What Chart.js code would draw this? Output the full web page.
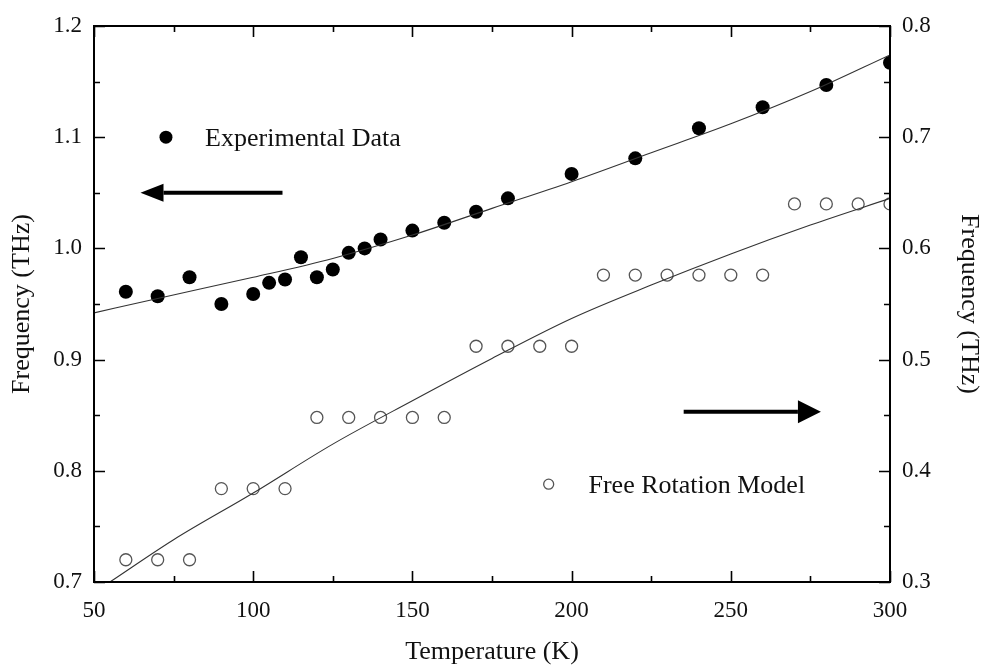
<!doctype html>
<html>
<head>
<meta charset="utf-8" />
<title>Frequency vs Temperature</title>
<script src="https://cdn.jsdelivr.net/npm/chart.js@4"></script>
<style>
  html, body { margin: 0; padding: 0; background: #fff; }
  #wrap { width: 985px; height: 668px; }
</style>
</head>
<body>
<div id="wrap"><canvas id="chart" width="985" height="668"></canvas></div>
<script>
// experimental points (left axis, THz)
const expT = [60, 70, 80, 90, 100, 105, 110, 115, 120, 125, 130, 135, 140, 150, 160, 170, 180, 200, 220, 240, 260, 280, 300];
const expFreq = [0.961, 0.957, 0.974, 0.950, 0.959, 0.969, 0.972, 0.992, 0.974, 0.981, 0.996, 1.000, 1.008, 1.016, 1.023, 1.033, 1.045, 1.067, 1.081, 1.108, 1.127, 1.147, 1.167];

// free rotation model points (right axis, THz)
const modelT = [60, 70, 80, 90, 100, 110, 120, 130, 140, 150, 160, 170, 180, 190, 200, 210, 220, 230, 240, 250, 260, 270, 280, 290, 300];
const modelFreq = [0.320, 0.320, 0.320, 0.384, 0.384, 0.384, 0.448, 0.448, 0.448, 0.448, 0.448, 0.512, 0.512, 0.512, 0.512, 0.576, 0.576, 0.576, 0.576, 0.576, 0.576, 0.640, 0.640, 0.640, 0.640];

// fitted curves
const expFitT = [50, 70, 100, 125, 150, 175, 200, 225, 250, 275, 300];
const expFitFreq = [0.942, 0.955, 0.974, 0.991, 1.012, 1.036, 1.060, 1.086, 1.112, 1.141, 1.174];
const modelFitT = [55, 75, 100, 125, 150, 175, 200, 225, 250, 275, 300];
const modelFitFreq = [0.300, 0.338, 0.380, 0.424, 0.463, 0.501, 0.537, 0.567, 0.595, 0.621, 0.645];

// axis ranges / ticks
const xRange = [50, 300];
const leftRange = [0.7, 1.2];
const rightRange = [0.3, 0.8];

// annotation anchors, in data units (x: K, y: left axis THz)
const expLabel = { marker: [72.6, 1.100], text: [84.9, 1.100], label: 'Experimental Data' };
const modelLabel = { marker: [192.8, 0.788], text: [205.3, 0.788], label: 'Free Rotation Model' };
const leftArrow = { from: [109.2, 1.050], to: [64.6, 1.050] };
const rightArrow = { from: [235.2, 0.853], to: [278.3, 0.853] };

const SERIF = "'Liberation Serif', 'Times New Roman', serif";

const pairs = (xs, ys) => xs.map((v, i) => ({ x: v, y: ys[i] }));

function drawArrow(ctx, x0, y0, x1, y1, headLen, headHalf) {
  const dir = Math.sign(x1 - x0);
  ctx.beginPath();
  ctx.moveTo(x0, y0);
  ctx.lineTo(x1 - dir * headLen, y1);
  ctx.stroke();
  ctx.beginPath();
  ctx.moveTo(x1, y1);
  ctx.lineTo(x1 - dir * headLen, y1 - headHalf);
  ctx.lineTo(x1 - dir * headLen, y1 + headHalf);
  ctx.closePath();
  ctx.fill();
}

const frameAndNotes = {
  id: 'frameAndNotes',
  afterDatasetsDraw(chart) {
    const { ctx, chartArea: a, scales } = chart;
    const x = scales.x, y = scales.y, y2 = scales.y2;
    ctx.save();
    ctx.strokeStyle = '#000';
    ctx.fillStyle = '#000';

    // frame
    ctx.lineWidth = 2;
    ctx.strokeRect(a.left, a.top, a.right - a.left, a.bottom - a.top);

    // inward ticks
    ctx.lineWidth = 1.6;
    ctx.beginPath();
    for (let i = 0; i <= 10; i++) {
      const px = Math.round(x.getPixelForValue(xRange[0] + i * 25)) + 0.5;
      const len = i % 2 === 0 ? 11 : 6;
      ctx.moveTo(px, a.bottom); ctx.lineTo(px, a.bottom - len);
      ctx.moveTo(px, a.top); ctx.lineTo(px, a.top + len);
      const pyL = Math.round(y.getPixelForValue(leftRange[0] + i * 0.05)) + 0.5;
      ctx.moveTo(a.left, pyL); ctx.lineTo(a.left + len, pyL);
      const pyR = Math.round(y2.getPixelForValue(rightRange[0] + i * 0.05)) + 0.5;
      ctx.moveTo(a.right, pyR); ctx.lineTo(a.right - len, pyR);
    }
    ctx.stroke();

    // legend-like labels
    ctx.font = '26px ' + SERIF;
    ctx.textBaseline = 'alphabetic';
    ctx.textAlign = 'left';

    let mx = x.getPixelForValue(expLabel.marker[0]);
    let my = y.getPixelForValue(expLabel.marker[1]);
    ctx.beginPath();
    ctx.arc(mx, my, 6.5, 0, Math.PI * 2);
    ctx.fill();
    ctx.fillStyle = '#111';
    ctx.fillText(expLabel.label, x.getPixelForValue(expLabel.text[0]), y.getPixelForValue(expLabel.text[1]) + 9);

    mx = x.getPixelForValue(modelLabel.marker[0]);
    my = y.getPixelForValue(modelLabel.marker[1]);
    ctx.strokeStyle = '#555';
    ctx.lineWidth = 1.3;
    ctx.beginPath();
    ctx.arc(mx, my, 5, 0, Math.PI * 2);
    ctx.stroke();
    ctx.fillText(modelLabel.label, x.getPixelForValue(modelLabel.text[0]), y.getPixelForValue(modelLabel.text[1]) + 9);

    // arrows
    ctx.strokeStyle = '#000';
    ctx.fillStyle = '#000';
    ctx.lineWidth = 4;
    drawArrow(ctx,
      x.getPixelForValue(leftArrow.from[0]), y.getPixelForValue(leftArrow.from[1]),
      x.getPixelForValue(leftArrow.to[0]), y.getPixelForValue(leftArrow.to[1]), 23, 9);
    drawArrow(ctx,
      x.getPixelForValue(rightArrow.from[0]), y.getPixelForValue(rightArrow.from[1]),
      x.getPixelForValue(rightArrow.to[0]), y.getPixelForValue(rightArrow.to[1]), 23, 11.5);
    ctx.restore();
  }
};

const tickFont = { family: SERIF, size: 23 };
const titleFont = { family: SERIF, size: 26 };

new Chart(document.getElementById('chart'), {
  type: 'scatter',
  data: {
    datasets: [
      {
        label: 'Experimental fit',
        data: pairs(expFitT, expFitFreq),
        yAxisID: 'y',
        showLine: true,
        pointRadius: 0,
        borderColor: '#333',
        borderWidth: 1.1,
        cubicInterpolationMode: 'monotone',
        clip: 0
      },
      {
        label: 'Model fit',
        data: pairs(modelFitT, modelFitFreq),
        yAxisID: 'y2',
        showLine: true,
        pointRadius: 0,
        borderColor: '#333',
        borderWidth: 1.1,
        cubicInterpolationMode: 'monotone',
        clip: 0
      },
      {
        label: 'Experimental Data',
        data: pairs(expT, expFreq),
        yAxisID: 'y',
        pointRadius: 7,
        pointBackgroundColor: '#000',
        pointBorderColor: '#000',
        pointBorderWidth: 0,
        clip: 0
      },
      {
        label: 'Free Rotation Model',
        data: pairs(modelT, modelFreq),
        yAxisID: 'y2',
        pointRadius: 6,
        pointBackgroundColor: 'rgba(255,255,255,0)',
        pointBorderColor: '#555',
        pointBorderWidth: 1.3,
        clip: 0
      }
    ]
  },
  options: {
    responsive: false,
    animation: false,
    devicePixelRatio: 1,
    layout: { padding: { top: 26, right: 0, left: 0, bottom: 0 } },
    plugins: { legend: { display: false }, tooltip: { enabled: false } },
    scales: {
      x: {
        type: 'linear',
        position: 'bottom',
        min: xRange[0], max: xRange[1],
        afterFit: (s) => { s.height = 86; },
        grid: { display: false, drawTicks: false },
        border: { display: false },
        ticks: { stepSize: 50, font: tickFont, color: '#111', padding: 15, maxRotation: 0 },
        title: { display: true, text: 'Temperature (K)', font: titleFont, color: '#111', padding: { top: 0, bottom: 0 } }
      },
      y: {
        type: 'linear',
        position: 'left',
        min: leftRange[0], max: leftRange[1],
        afterFit: (s) => { s.width = 94; },
        grid: { display: false, drawTicks: false },
        border: { display: false },
        ticks: { stepSize: 0.1, font: tickFont, color: '#111', padding: 12, callback: (v) => v.toFixed(1) },
        title: { display: true, text: 'Frequency (THz)', font: titleFont, color: '#111', padding: { top: 7, bottom: 0 } }
      },
      y2: {
        type: 'linear',
        position: 'right',
        min: rightRange[0], max: rightRange[1],
        afterFit: (s) => { s.width = 95; },
        grid: { display: false, drawTicks: false },
        border: { display: false },
        ticks: { stepSize: 0.1, font: tickFont, color: '#111', padding: 12, callback: (v) => v.toFixed(1) },
        title: { display: true, text: 'Frequency (THz)', font: titleFont, color: '#111', padding: { top: 1, bottom: 0 } }
      }
    }
  },
  plugins: [frameAndNotes]
});
</script>
</body>
</html>
